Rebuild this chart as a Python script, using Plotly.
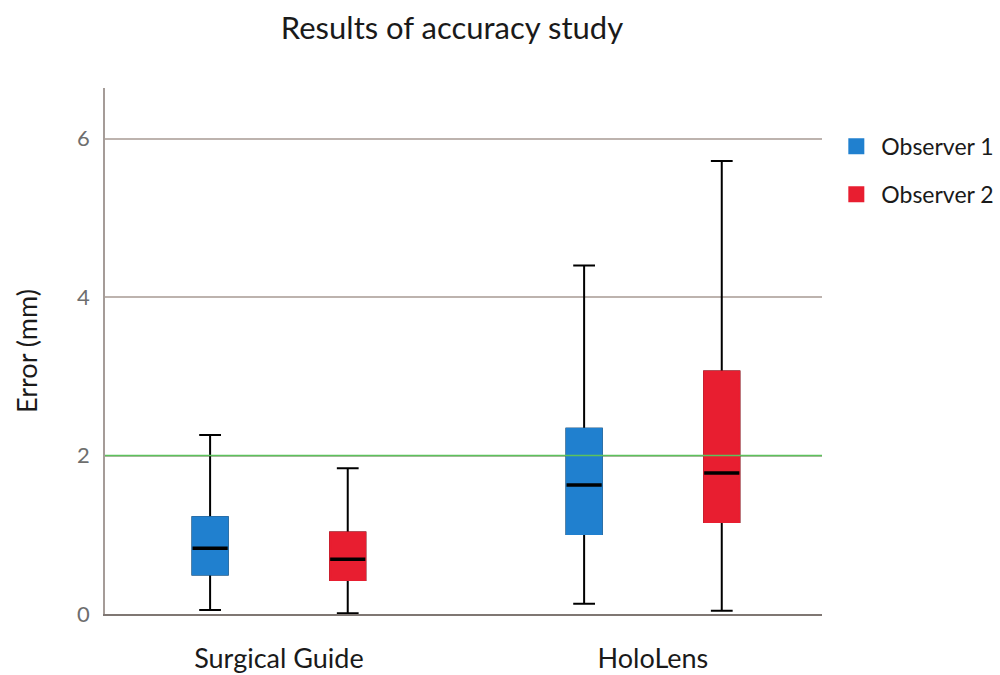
import plotly.graph_objects as go

# Box-plot statistics (mm) for each method and observer
categories = ["Surgical Guide", "HoloLens"]
observers = ["Observer 1", "Observer 2"]

obs1_min = [0.05, 0.13]
obs1_q1 = [0.50, 1.01]
obs1_median = [0.83, 1.63]
obs1_q3 = [1.22, 2.34]
obs1_max = [2.26, 4.40]

obs2_min = [0.01, 0.04]
obs2_q1 = [0.43, 1.16]
obs2_median = [0.69, 1.78]
obs2_q3 = [1.03, 3.06]
obs2_max = [1.84, 5.72]

y_ticks = [0, 2, 4, 6]

colors = ["#2080cf", "#e81e30"]
offsets = [-0.184, 0.184]
box_w = 0.094
font = "Lato"

series = [
    (obs1_min, obs1_q1, obs1_median, obs1_q3, obs1_max),
    (obs2_min, obs2_q1, obs2_median, obs2_q3, obs2_max),
]

fig = go.Figure()

for k, (lo, q1, med, q3, hi) in enumerate(series):
    xs = [i + offsets[k] for i in range(len(categories))]
    # whiskers and caps in black
    fig.add_trace(go.Box(
        x=xs, q1=q1, median=med, q3=q3, lowerfence=lo, upperfence=hi,
        width=box_w, whiskerwidth=0.62, line=dict(color="black", width=2),
        fillcolor="rgba(0,0,0,0)", showlegend=False, hoverinfo="skip",
        boxpoints=False,
    ))
    # coloured body covering the interquartile range
    fig.add_trace(go.Box(
        x=xs, q1=q1, median=q1, q3=q3, lowerfence=q1, upperfence=q3,
        width=box_w, whiskerwidth=0, line=dict(color=colors[k], width=2),
        fillcolor=colors[k], showlegend=False, boxpoints=False,
    ))
    # median bar in black
    fig.add_trace(go.Box(
        x=xs, q1=med, median=med, q3=med, lowerfence=med, upperfence=med,
        width=box_w, whiskerwidth=0, line=dict(color="black", width=3.5),
        fillcolor="black", showlegend=False, hoverinfo="skip", boxpoints=False,
    ))
    # legend entry
    fig.add_trace(go.Scatter(
        x=[None], y=[None], mode="markers", name=observers[k],
        marker=dict(symbol="square", size=20, color=colors[k]),
        legendgroup=observers[k],
    ))

# reference line at 2 mm
fig.add_hline(y=2, line=dict(color="#5cc25c", width=1.6))

fig.update_layout(
    width=1000, height=675,
    margin=dict(l=105, r=178, t=88, b=61, autoexpand=False),
    paper_bgcolor="white", plot_bgcolor="white",
    title=dict(text="Results of accuracy study", x=0.452, xanchor="center",
               y=0.958, yanchor="middle",
               font=dict(family=font, size=31, color="#1a1a1a")),
    font=dict(family=font),
    showlegend=True,
    legend=dict(x=1.013, y=0.93, xanchor="left", yanchor="top",
                font=dict(family=font, size=23, color="#1a1a1a"),
                traceorder="grouped", tracegroupgap=15, itemwidth=40,
                bgcolor="rgba(0,0,0,0)"),
    xaxis=dict(
        range=[-0.465, 1.452], tickvals=[0, 1], ticktext=categories,
        showgrid=False, zeroline=False, showline=True, linecolor="#7f7773",
        linewidth=1.5, ticks="", ticklabelstandoff=20,
        tickfont=dict(family=font, size=27, color="#1a1a1a"),
    ),
    yaxis=dict(
        range=[0, 6.64], tickvals=y_ticks, ticktext=[str(v) for v in y_ticks],
        showgrid=True, gridcolor="#bdb3ae", gridwidth=1.5, zeroline=False,
        showline=True, linecolor="#a59c98", linewidth=1.5, ticks="",
        ticklabelstandoff=9,
        tickfont=dict(family=font, size=22, color="#6e6e6e"),
        title=dict(text="Error (mm)", standoff=32,
                   font=dict(family=font, size=27, color="#1a1a1a")),
    ),
)

fig.write_html("out.html")
